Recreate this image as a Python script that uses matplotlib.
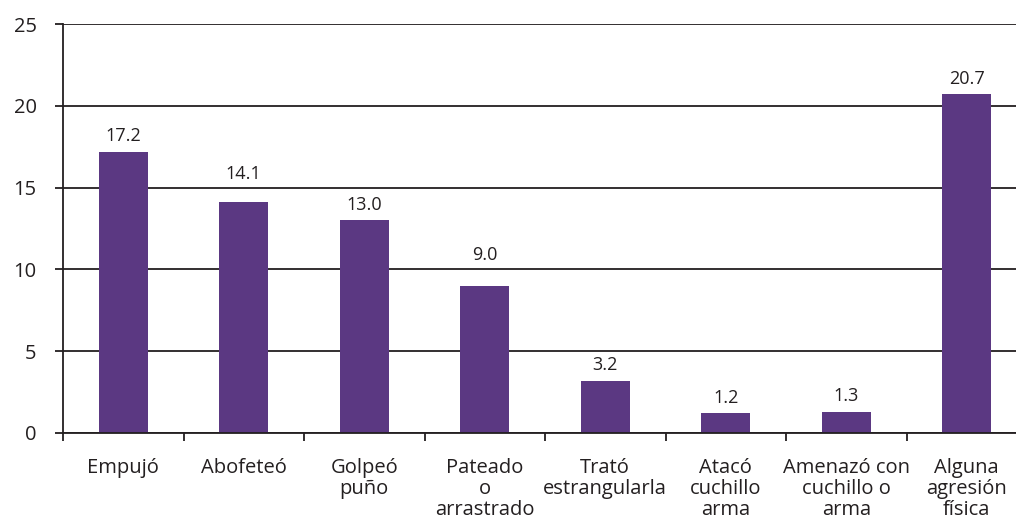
import matplotlib
matplotlib.use("Agg")
import matplotlib.pyplot as plt

categories = ["Empujó", "Abofeteó", "Golpeó\npuño", "Pateado\no\narrastrado",
              "Trató\nestrangularla", "Atacó\ncuchillo\narma",
              "Amenazó con\ncuchillo o\narma", "Alguna\nagresión\nfísica"]
values = [17.2, 14.1, 13.0, 9.0, 3.2, 1.2, 1.3, 20.7]
value_labels = ["17.2", "14.1", "13.0", "9.0", "3.2", "1.2", "1.3", "20.7"]
yticks = [0, 5, 10, 15, 20, 25]

plt.rcParams['font.family'] = ['Open Sans', 'DejaVu Sans']
txt = '#231f20'

fig = plt.figure(figsize=(10.16, 5.21), dpi=100)
ax = fig.add_axes([63/1016, 88/521, 964/1016, 409/521])

x = list(range(len(categories)))
ax.bar(x, values, width=0.41, color='#5b3882', zorder=3)

# put value labels above the bars, lifted clear of a gridline if they'd cross one
for xi, v, lab in zip(x, values, value_labels):
    y0 = v + 0.4
    for g in yticks:
        if y0 < g < y0 + 1.05:
            y0 = g + 0.3
    ax.text(xi, y0, lab, ha='center', va='bottom', fontsize=13, color=txt)

ax.set_xlim(-0.5, len(categories) - 0.5)
ax.set_ylim(0, 25)
ax.set_yticks(yticks)
ax.set_yticklabels([str(t) for t in yticks], fontsize=14.5, color=txt)
ax.yaxis.grid(True, color='#231f20', linewidth=1.3, zorder=0)

ax.set_xticks([i + 0.5 for i in range(-1, len(categories))], minor=False)
ax.set_xticklabels([])
ax.set_xticks(x, minor=True)
ax.set_xticklabels(categories, minor=True, fontsize=14.5, color=txt, linespacing=1.08, va='top')
ax.tick_params(axis='x', which='major', length=6, width=1.3, color=txt, direction='out')
ax.tick_params(axis='x', which='minor', length=0, pad=18)
ax.tick_params(axis='y', length=6, width=1.3, color=txt, pad=13)

for s in ['top', 'right']:
    ax.spines[s].set_visible(False)
for s in ['left', 'bottom']:
    ax.spines[s].set_color(txt)
    ax.spines[s].set_linewidth(1.3)
    ax.spines[s].set_zorder(4)

fig.savefig('out.png', dpi=100)
